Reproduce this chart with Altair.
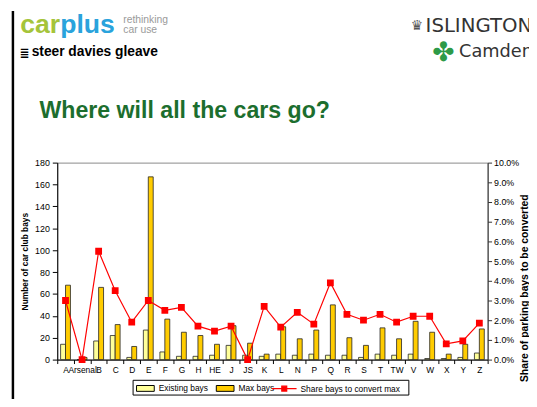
import altair as alt
import pandas as pd

# ---------------- data ----------------
cats = ["A", "Arsenal", "B", "C", "D", "E", "F", "G", "H", "HE", "J", "JS", "K",
        "L", "N", "P", "Q", "R", "S", "T", "TW", "V", "W", "X", "Y", "Z"]
existing_bays = [14, 0, 17, 22, 2, 27, 7, 3, 3, 4, 13, 4, 3,
                 5, 4, 5, 4, 4, 2, 5, 4, 5, 1, 1, 2, 6]
max_bays = [68, 2, 66, 32, 12, 167, 37, 25, 22, 14, 31, 15, 5,
            30, 19, 27, 50, 20, 13, 29, 19, 35, 25, 5, 14, 28]
share_pct = [3.0, 0.0, 5.5, 3.5, 1.9, 3.0, 2.5, 2.65, 1.7, 1.45, 1.7, 0.0, 2.7,
             1.65, 2.4, 1.8, 3.9, 2.3, 2.0, 2.3, 1.9, 2.2, 2.2, 0.8, 0.95, 1.85]

bar_series = ["Existing bays", "Max bays"]
bar_colors = ["#ffff99", "#ffcc00"]
line_series = ["Share bays to convert max"]
line_colors = ["#ff0000"]
left_ticks = list(range(0, 181, 20))
right_ticks = [i / 100 for i in range(0, 11)]

FONT = "Liberation Sans, Arial, sans-serif"

bars_df = pd.DataFrame({
    "cat": cats * 2,
    "series": [bar_series[0]] * len(cats) + [bar_series[1]] * len(cats),
    "value": existing_bays + max_bays,
})
line_df = pd.DataFrame({
    "cat": cats,
    "series": line_series * len(cats),
    "share": [v / 100 for v in share_pct],
})

x_axis = alt.Axis(title=None, labelAngle=0, labelFont=FONT, labelFontSize=8.5,
                  labelColor="black", tickBand="extent", tickSize=4, tickColor="black",
                  domainColor="black", labelPadding=2, labelOverlap=False)

bars = alt.Chart(bars_df).mark_bar(stroke="#222222", strokeWidth=0.8).encode(
    x=alt.X("cat:N", sort=cats, scale=alt.Scale(paddingInner=0, paddingOuter=0), axis=x_axis),
    xOffset=alt.XOffset("series:N", scale=alt.Scale(domain=bar_series, paddingInner=0, paddingOuter=0.68)),
    y=alt.Y("value:Q", scale=alt.Scale(domain=[0, 180], nice=False),
            axis=alt.Axis(values=left_ticks, title="Number of car club bays", grid=False,
                          labelFont=FONT, labelFontSize=9, labelColor="black", tickSize=5,
                          tickColor="black", domainColor="black", labelPadding=3,
                          titleFont=FONT, titleFontSize=8.5, titleFontWeight="bold",
                          titleColor="black", titlePadding=5)),
    color=alt.Color("series:N", scale=alt.Scale(domain=bar_series, range=bar_colors),
                    legend=alt.Legend(title=None, orient="none", direction="horizontal",
                                      columns=2, legendX=80, legendY=219.5, padding=0,
                                      labelFont=FONT, labelFontSize=8.5, labelColor="black",
                                      labelOffset=4, columnPadding=5, symbolSize=324,
                                      symbolType="M-1,-0.33H1V0.33H-1Z",
                                      symbolStrokeColor="black", symbolStrokeWidth=1,
                                      symbolOpacity=1)),
)

line = alt.Chart(line_df).mark_line(
    strokeWidth=1.2,
    point=alt.OverlayMarkDef(shape="square", size=24, filled=True, fill="#ff0000", opacity=1),
).encode(
    x=alt.X("cat:N", sort=cats),
    y=alt.Y("share:Q", scale=alt.Scale(domain=[0, 0.1], nice=False),
            axis=alt.Axis(orient="right", values=right_ticks, format=".1%", grid=False,
                          title="Share of parking bays to be converted",
                          labelFont=FONT, labelFontSize=9, labelColor="black", tickSize=4,
                          tickColor="#333333", domainColor="#333333", labelPadding=2,
                          titleFont=FONT, titleFontSize=10.5, titleFontWeight="bold",
                          titleColor="black", titleAngle=270, titleX=37, titleY=127,
                          titleAlign="center", titleBaseline="middle")),
    stroke=alt.Stroke("series:N", scale=alt.Scale(domain=line_series, range=line_colors),
                      legend=alt.Legend(title=None, orient="none", direction="horizontal",
                                        legendX=217, legendY=216, padding=0,
                                        labelFont=FONT, labelFontSize=8.5, labelColor="black",
                                        labelOffset=3, symbolSize=625,
                                        symbolType="M-1,0H1M-0.2,-0.2H0.2V0.2H-0.2Z",
                                        symbolFillColor="#ff0000", symbolStrokeWidth=1.2,
                                        symbolOpacity=1)),
)


def deco(text, x, y, size, color="black", weight="normal", align="left", font=FONT):
    return alt.Chart(alt.Data(values=[{}])).mark_text(
        text=text, align=align, baseline="alphabetic", fontSize=size,
        fontWeight=weight, color=color, font=font,
    ).encode(x=alt.value(x), y=alt.value(y))


# page coordinate (X, Y) -> plot coordinate (X-58, Y-162)
decorations = [
    deco("car", 3, -132, 27, "#a5c43a", "bold", "right"),
    deco("plus", 3, -132, 27, "#2aa3dc", "bold", "left"),
    deco("rethinking", 67, -142, 10.5, "#9a9a9a"),
    deco("car use", 67, -132, 10.5, "#9a9a9a"),
    deco("\u2263", -38, -107, 12, "black", "bold", "left", "DejaVu Sans"),
    deco("steer davies gleave", -26, -108, 14, "black", "bold"),
    deco("\u265b", 359, -135, 14, "#555555", "normal", "left", "DejaVu Sans"),
    deco("ISLINGTON", 374, -133, 20, "#333333", "normal", "left", "DejaVu Sans"),
    deco("\u2724", 392, -103, 27, "#2e9a47", "normal", "center", "DejaVu Sans"),
    deco("Camden", 408, -107, 18, "#333333", "normal", "left", "DejaVu Sans"),
    deco("Where will all the cars go?", -18, -45, 23.5, "#1c6e2e", "bold"),
]

frame = alt.Chart(alt.Data(values=[{}])).mark_rule(color="black", strokeWidth=2.5).encode(
    x=alt.value(-45), y=alt.value(-154), y2=alt.value(245)
)
legend_box = alt.Chart(alt.Data(values=[{}])).mark_rect(
    fill=None, fillOpacity=0, stroke="black", strokeWidth=1
).encode(x=alt.value(77), x2=alt.value(357), y=alt.value(221), y2=alt.value(236))

chart = alt.layer(bars, line, frame, legend_box, *decorations).resolve_scale(
    y="independent"
).properties(
    width=437, height=200,
    autosize=alt.AutoSizeParams(type="none"),
    padding={"left": 50, "top": 154, "right": 42, "bottom": 37},
    background="white",
).configure_view(stroke="#888888", strokeWidth=1)

chart.save("out.html", embed_options={"renderer": "svg", "actions": False})
